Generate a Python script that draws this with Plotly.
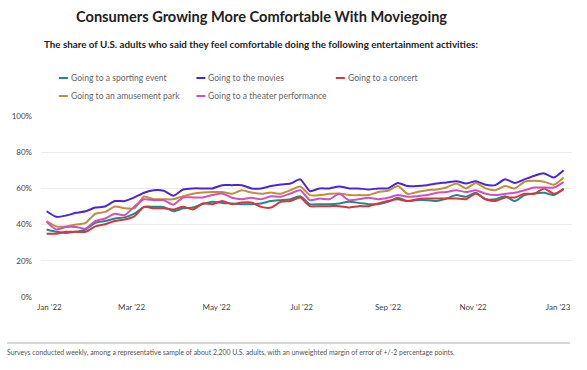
import pandas as pd
import plotly.graph_objects as go

# ---- data ----
series_names = [
    "Going to a sporting event",
    "Going to the movies",
    "Going to a concert",
    "Going to an amusement park",
    "Going to a theater performance",
]
series_colors = ["#1d8a8c", "#4b25d8", "#d8363d", "#bf8f3a", "#d24fbf"]

start_date = "2021-12-30"
n_weeks = 54

sporting = [37.3, 36, 35.4, 36, 37.3, 41, 42, 43.4, 44, 46, 49.8, 49.8, 49.8, 47.4, 49, 49.4, 51.3, 52.6,
            52, 51.7, 51.3, 51.3, 51.7, 53, 53.5, 54, 55.7,
            51.3, 51.3, 51.3, 51.7, 52.6, 52, 51.3, 51.3, 52.6, 54.8, 53, 53.5, 53.5, 53, 54.4, 56.3, 55.4,
            57.6, 54, 54, 55.7, 53, 56.3, 57.2, 57.6, 56.3, 60]
movies = [47.4, 44.3, 45, 46.5, 47.4, 49.4, 50, 53, 53, 55, 57.6, 59, 58.7, 56, 59.4, 60, 60, 60,
          61.8, 61.8, 61.8, 60, 60, 61.3, 62.2, 62.7, 65,
          58.5, 60, 60, 61, 60, 60, 59.4, 60, 60, 63, 61.3, 61.3, 61.8, 62.7, 63.3, 64, 62.7,
          64, 62, 61.8, 65, 63, 65, 67, 68.3, 66, 70]
concert = [35, 35, 36, 36, 36, 39, 40.2, 42, 42.8, 44.6, 49.8, 49, 49, 48.3, 49.8, 48.3, 51.7, 51.3,
           53, 51.3, 52.2, 52.2, 49.8, 49.4, 52.6, 53, 55,
           50.2, 50.2, 50.2, 50.2, 49.4, 50.2, 50.2, 51.7, 53, 54, 53, 54, 54.4, 54.4, 54.4, 54.4, 54,
           57.2, 54, 53, 55, 55, 57, 57, 60, 57, 59.4]
amusement = [42, 39, 39, 40, 41, 46, 47, 50, 49, 49, 55.5, 54, 54, 54, 55.7, 57, 57.7, 58,
             58, 57, 59, 57.7, 57, 57.7, 57, 59, 61,
             56.3, 56.3, 57, 57.2, 56.3, 56.3, 56.3, 58, 58.7, 61.3, 57, 58, 59, 59.4, 60.5, 62.7, 60,
             63, 60, 59, 61.3, 60, 63.7, 64.2, 63.7, 62, 66]
theater = [41.5, 37.3, 38.7, 38.7, 37.8, 42, 43.4, 46, 45.2, 50, 54, 53.5, 53.5, 51, 55, 55, 55, 56.3,
           57.2, 54.8, 54, 54.8, 54, 55.7, 55.4, 57.2, 59,
           53.5, 54.4, 54, 57, 53.5, 54, 54.8, 54, 54.8, 56.3, 55.4, 55.7, 56.3, 57.6, 58, 59, 58,
           59, 57, 56.3, 57, 57.6, 59, 60.5, 60.5, 60.5, 63.5]

x_tick_dates = ["2022-01-01", "2022-03-01", "2022-05-01", "2022-07-01", "2022-09-01", "2022-11-01", "2023-01-01"]
x_tick_labels = ["Jan '22", "Mar '22", "May '22", "Jul '22", "Sep '22", "Nov '22", "Jan '23"]
y_tick_vals = [0, 20, 40, 60, 80, 100]
y_tick_labels = ["0%", "20%", "40%", "60%", "80%", "100%"]

title_text = "Consumers Growing More Comfortable With Moviegoing"
subtitle_text = "The share of U.S. adults who said they feel comfortable doing the following entertainment activities:"
footnote_text = ("Surveys conducted weekly, among a representative sample of about 2,200 U.S. adults, "
                 "with an unweighted margin of error of +/-2 percentage points.")

# ---- figure ----
dates = pd.date_range(start_date, periods=n_weeks, freq="7D")
all_series = [sporting, movies, concert, amusement, theater]

W, H = 587, 370
# plot area in page pixels: x 39..572, y 116..297
L, T = 39, 116
R = W - 572
B = H - 297
pw, ph = W - L - R, H - T - B


def px_x(p):
    return (p - L) / pw


def px_y(p):
    return (H - B - p) / ph


fig = go.Figure()
for name, vals, col in zip(series_names, all_series, series_colors):
    fig.add_trace(go.Scatter(x=dates, y=vals, name=name, mode="lines",
                             line=dict(color=col, width=2, shape="spline", smoothing=0.6),
                             showlegend=False))

FONT = "Lato, Open Sans, Arial, sans-serif"
annotations = [
    dict(text="<b>" + title_text + "</b>", x=px_x(260), y=px_y(17), xref="paper", yref="paper",
         xanchor="center", yanchor="middle", showarrow=False,
         font=dict(family=FONT, size=14.6, color="#222222")),
    dict(text="<b>" + subtitle_text + "</b>", x=px_x(260), y=px_y(44), xref="paper", yref="paper",
         xanchor="center", yanchor="middle", showarrow=False,
         font=dict(family=FONT, size=9.8, color="#222222")),
    dict(text=footnote_text, x=px_x(3), y=px_y(352), xref="paper", yref="paper",
         xanchor="left", yanchor="middle", showarrow=False,
         font=dict(family=FONT, size=6.9, color="#555555")),
]
shapes = [
    dict(type="line", xref="paper", yref="paper", x0=px_x(5), x1=px_x(570),
         y0=px_y(343), y1=px_y(343), line=dict(color="#aaaaaa", width=1)),
]

# custom legend
leg_cols_x = [57, 195, 335]
leg_rows_y = [78, 96]
for k, (name, col) in enumerate(zip(series_names, series_colors)):
    cx = leg_cols_x[k % 3]
    ry = leg_rows_y[k // 3]
    shapes.append(dict(type="line", xref="paper", yref="paper", x0=px_x(cx), x1=px_x(cx + 9),
                       y0=px_y(ry), y1=px_y(ry), line=dict(color=col, width=2)))
    annotations.append(dict(text=name, x=px_x(cx + 10), y=px_y(ry), xref="paper", yref="paper",
                            xanchor="left", yanchor="middle", showarrow=False,
                            font=dict(family=FONT, size=8.6, color="#666666")))

fig.update_layout(
    width=W, height=H,
    margin=dict(l=L, r=R, t=T, b=B),
    paper_bgcolor="white", plot_bgcolor="white",
    font=dict(family=FONT, color="#444444"),
    annotations=annotations,
    shapes=shapes,
    xaxis=dict(range=["2021-12-26", "2023-01-11"], tickvals=x_tick_dates, ticktext=x_tick_labels,
               showgrid=False, zeroline=False, showline=False, ticks="",
               tickfont=dict(size=8, color="#444444"), ticklabelstandoff=4),
    yaxis=dict(range=[0, 100], tickvals=y_tick_vals, ticktext=y_tick_labels,
               showgrid=True, gridcolor="#ececec", gridwidth=1, zeroline=False, showline=False,
               ticks="", tickfont=dict(size=8, color="#444444"), ticklabelstandoff=8),
)

fig.write_html(
    "out.html",
    config={"displayModeBar": False},
    post_script="document.body.style.margin='0';document.body.style.overflow='hidden';",
)
